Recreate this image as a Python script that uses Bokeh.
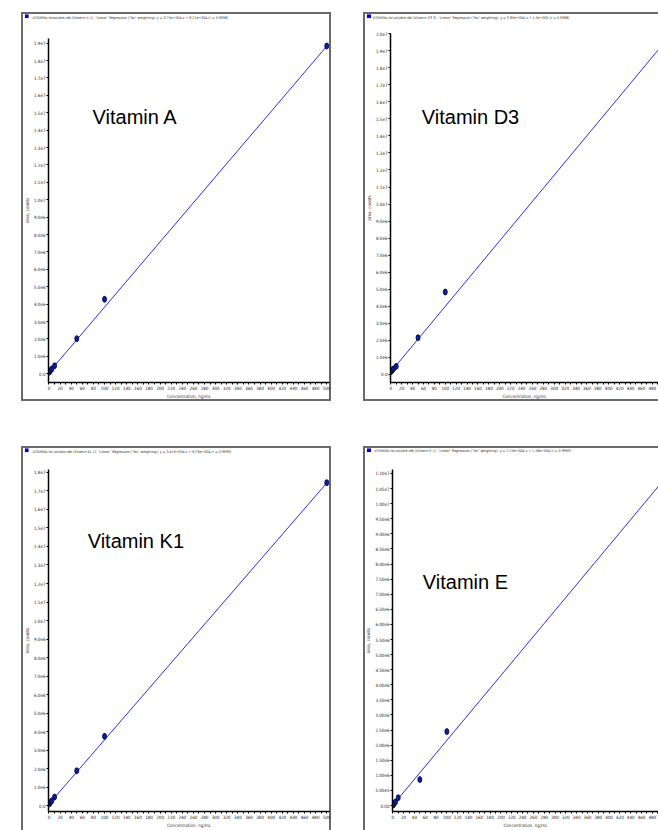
from bokeh.plotting import figure
from bokeh.models import FixedTicker, Label, Spacer, Range1d, BoxAnnotation
from bokeh.layouts import row, column
from bokeh.embed import file_html
from bokeh.resources import INLINE

# ---------------- data ----------------
names = ["Vitamin A", "Vitamin D3", "Vitamin K1", "Vitamin E"]
titles = [
    'VITAMINs fatsoluble.rdb (Vitamin A 1): "Linear" Regression ("No" weighting): y = 3.75e+004 x + 8.21e+004 (r = 0.9996)',
    'VITAMINs fat soluble.rdb (Vitamin D3 3): "Linear" Regression ("No" weighting): y = 3.85e+004 x + 1.5e+005 (r = 0.9986)',
    'VITAMINs fat soluble.rdb (Vitamin K1 1): "Linear" Regression ("No" weighting): y = 3.47e+004 x + 8.29e+004 (r = 0.9999)',
    'VITAMINs fat soluble.rdb (Vitamin E 1): "Linear" Regression ("No" weighting): y = 2.15e+004 x + 1.16e+004 (r = 0.9993)',
]
conc = [0.5, 1, 2.5, 5, 10, 50, 100, 500]
area_A = [1.0e5, 1.3e5, 1.8e5, 2.8e5, 4.6e5, 2.02e6, 4.28e6, 1.884e7]
area_D3 = [1.7e5, 2.0e5, 2.6e5, 3.3e5, 4.8e5, 2.16e6, 4.84e6, 1.93e7]
area_K1 = [1.0e5, 1.2e5, 1.7e5, 2.6e5, 4.6e5, 1.88e6, 3.74e6, 1.745e7]
area_E = [2.0e4, 3.5e4, 6.5e4, 1.2e5, 2.6e5, 0.86e6, 2.45e6, 1.075e7]
areas = [area_A, area_D3, area_K1, area_E]
fit_slope = [3.75e4, 3.85e4, 3.47e4, 2.15e4]
fit_intercept = [8.21e4, 1.5e5, 8.29e4, 1.16e4]
fit_x = [0, 500]

x_tick_labels = ["0", "20", "40", "60", "80", "100", "120", "140", "160", "180", "200",
                 "220", "240", "260", "280", "300", "320", "340", "360", "380", "400",
                 "420", "440", "460", "480", "500"]
x_minor_ticks = [10, 30, 50, 70, 90, 110, 130, 150, 170, 190, 210, 230, 250, 270, 290,
                 310, 330, 350, 370, 390, 410, 430, 450, 470, 490]
yA_labels = ["0.0", "1.0e6", "2.0e6", "3.0e6", "4.0e6", "5.0e6", "6.0e6", "7.0e6", "8.0e6",
             "9.0e6", "1.0e7", "1.1e7", "1.2e7", "1.3e7", "1.4e7", "1.5e7", "1.6e7", "1.7e7",
             "1.8e7", "1.9e7"]
yD3_labels = yA_labels + ["2.0e7"]
yK1_labels = yA_labels[:19]
yE_labels = ["0.00", "5.00e5", "1.00e6", "1.50e6", "2.00e6", "2.50e6", "3.00e6", "3.50e6",
             "4.00e6", "4.50e6", "5.00e6", "5.50e6", "6.00e6", "6.50e6", "7.00e6", "7.50e6",
             "8.00e6", "8.50e6", "9.00e6", "9.50e6", "1.00e7", "1.05e7", "1.10e7"]
y_labels = [yA_labels, yD3_labels, yK1_labels, yE_labels]

# ---------------- layout / style (positions, not data) ----------------
panel_w = [310, 295, 310, 295]
header_h = [22, 17, 19, 19]
chart_h = [367, 372, 365, 365]
borders = [(21, 2, 4, 19), (21, 0, 4, 19), (21, 2, 4, 15), (21, 0, 4, 15)]  # L R T B
x_ranges = [(-0.88, 504.9), (-0.54, 491.4), (-0.88, 504.9), (-0.54, 491.4)]
y_ranges = [(-0.5e6, 1.927e7), (-0.47e6, 2.001e7), (-0.32e6, 1.816e7), (-0.196e6, 1.113e7)]
name_pos = [(78.4, 1.475e7), (56.9, 1.51e7), (69.6, 1.43e7), (55.6, 7.4e6)]
title_pos = [(11, 5), (9, 5), (11, 5), (11, 4.7)]          # px from header top-left
square_box = [(3.5, 7, 2, 5.5), (3.5, 7.5, 2, 5.5), (3.5, 7, 2, 5.5), (3.5, 7.5, 2, 5.5)]
header_sides = [("l", "t", "r"), ("l", "t"), ("l", "t", "r"), ("l", "t")]
chart_sides = [("l", "r", "b"), ("l", "b"), ("l", "r"), ("l",)]

FRAME = "#6a6a6a"
NARROW = "Liberation Sans Narrow, DejaVu Sans Condensed, sans-serif"


def shadow(sides):
    parts = {"l": "inset 2px 0 0 0 " + FRAME, "t": "inset 0 2px 0 0 " + FRAME,
             "r": "inset -2px 0 0 0 " + FRAME, "b": "inset 0 -2px 0 0 " + FRAME}
    return ", ".join(parts[s] for s in sides)


def plain(p, sides):
    p.background_fill_color = None
    p.border_fill_color = None
    p.outline_line_color = None
    p.grid.visible = False
    p.frame_align = False
    p.styles = {"background-color": "white", "box-shadow": shadow(sides)}


def make_header(i):
    w, h = panel_w[i], header_h[i]
    p = figure(width=w, height=h, x_range=Range1d(0, w), y_range=Range1d(h, 0),
               output_backend="svg", toolbar_location=None,
               x_axis_location=None, y_axis_location=None,
               min_border=0, min_border_left=0, min_border_right=0,
               min_border_top=0, min_border_bottom=0)
    plain(p, header_sides[i])
    l, r, t, b = square_box[i]
    p.add_layout(BoxAnnotation(left=l, right=r, top=t, bottom=b, fill_color="#0000dd",
                               fill_alpha=1, line_color="#00007a", line_width=0.5))
    tx, ty = title_pos[i]
    p.add_layout(Label(x=tx, y=ty, text=titles[i], text_color="#333333", text_font=NARROW,
                       text_font_size="3.6px", text_baseline="middle"))
    return p


def make_chart(i):
    L, R, T, B = borders[i]
    p = figure(width=panel_w[i], height=chart_h[i],
               x_range=Range1d(*x_ranges[i]), y_range=Range1d(*y_ranges[i]),
               output_backend="svg", toolbar_location=None,
               min_border_left=L, min_border_right=R, min_border_top=T, min_border_bottom=B)
    plain(p, chart_sides[i])

    xt = [int(s) for s in x_tick_labels]
    p.xaxis.ticker = FixedTicker(ticks=xt, minor_ticks=x_minor_ticks)
    yt = [float(s) for s in y_labels[i]]
    p.yaxis.ticker = FixedTicker(ticks=yt)
    p.yaxis.major_label_overrides = {v: s for v, s in zip(yt, y_labels[i])}
    p.xaxis.axis_label = "Concentration, ng/mL"
    p.yaxis.axis_label = "Area, counts"
    for ax in (p.xaxis, p.yaxis):
        ax.axis_line_color = "black"
        ax.axis_line_width = 1.5
        ax.major_tick_line_color = "black"
        ax.minor_tick_line_color = "black"
        ax.major_tick_out = 2
        ax.major_tick_in = 0
        ax.minor_tick_out = 2
        ax.minor_tick_in = 0
        ax.major_label_standoff = 1
        ax.major_label_text_font = NARROW
        ax.major_label_text_font_size = "4.5px"
        ax.major_label_text_color = "#222222"
        ax.axis_label_standoff = 1
        ax.axis_label_text_font = NARROW
        ax.axis_label_text_font_size = "4.5px"
        ax.axis_label_text_font_style = "normal"
        ax.axis_label_text_color = "#333333"
    p.yaxis.minor_tick_line_color = None

    fit_y = [fit_slope[i] * x + fit_intercept[i] for x in fit_x]
    p.line(fit_x, fit_y, line_color="#2c2cf5", line_width=1)
    p.ellipse(x=conc, y=areas[i], width=4, height=6,
              width_units="screen", height_units="screen",
              fill_color="#0d1f98", line_color="#00003c", line_width=0.8)

    nx, ny = name_pos[i]
    p.add_layout(Label(x=nx, y=ny, text=names[i], text_font="Liberation Sans",
                       text_font_size="20px", text_color="black",
                       text_baseline="alphabetic"))
    return p


cells = [column(make_header(i), make_chart(i)) for i in range(4)]

layout = column(
    Spacer(width=658, height=12),
    row(Spacer(width=21, height=389), cells[0], Spacer(width=32, height=389), cells[1]),
    Spacer(width=658, height=45),
    row(Spacer(width=21, height=384), cells[2], Spacer(width=32, height=384), cells[3]),
)

open("out.html", "w").write(file_html(layout, INLINE))
